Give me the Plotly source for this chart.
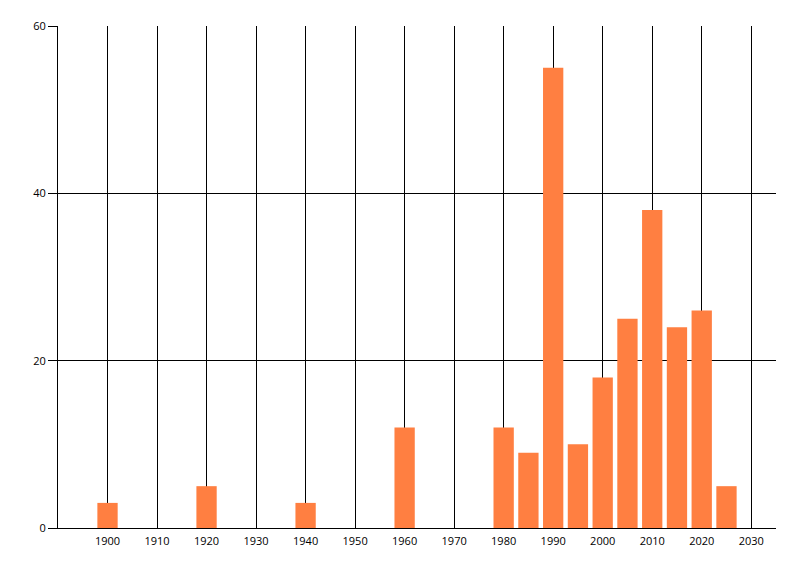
import plotly.graph_objects as go

# bar data
years = [1900, 1920, 1940, 1960, 1980, 1985, 1990, 1995, 2000, 2005, 2010, 2015, 2020, 2025]
counts = [3, 5, 3, 12, 12, 9, 55, 10, 18, 25, 38, 24, 26, 5]

x_ticks = list(range(1900, 2031, 10))
y_ticks = [0, 20, 40, 60]

fig = go.Figure()
fig.add_trace(go.Bar(
    x=years,
    y=counts,
    width=4.1,
    marker=dict(color="#FF7F41", line=dict(width=0)),
    showlegend=False,
))

# page body adds ~8px offset, so margins are shifted to compensate
fig.update_layout(
    width=800,
    height=576,
    margin=dict(l=50, r=32, t=18, b=56),
    paper_bgcolor="white",
    plot_bgcolor="white",
    font=dict(family="Open Sans", size=11, color="black"),
)
fig.update_xaxes(
    range=[1890, 2035],
    tickvals=x_ticks,
    ticktext=[str(v) for v in x_ticks],
    showgrid=True,
    gridcolor="black",
    gridwidth=1,
    showline=True,
    linecolor="black",
    linewidth=1,
    ticks="",
    ticklabelstandoff=3,
    zeroline=False,
    automargin=False,
)
fig.update_yaxes(
    range=[0, 60],
    tickvals=y_ticks,
    showgrid=True,
    gridcolor="black",
    gridwidth=1,
    showline=True,
    linecolor="black",
    linewidth=1,
    ticks="outside",
    ticklen=9,
    tickcolor="black",
    zeroline=False,
    automargin=False,
)

fig.write_html("out.html")
